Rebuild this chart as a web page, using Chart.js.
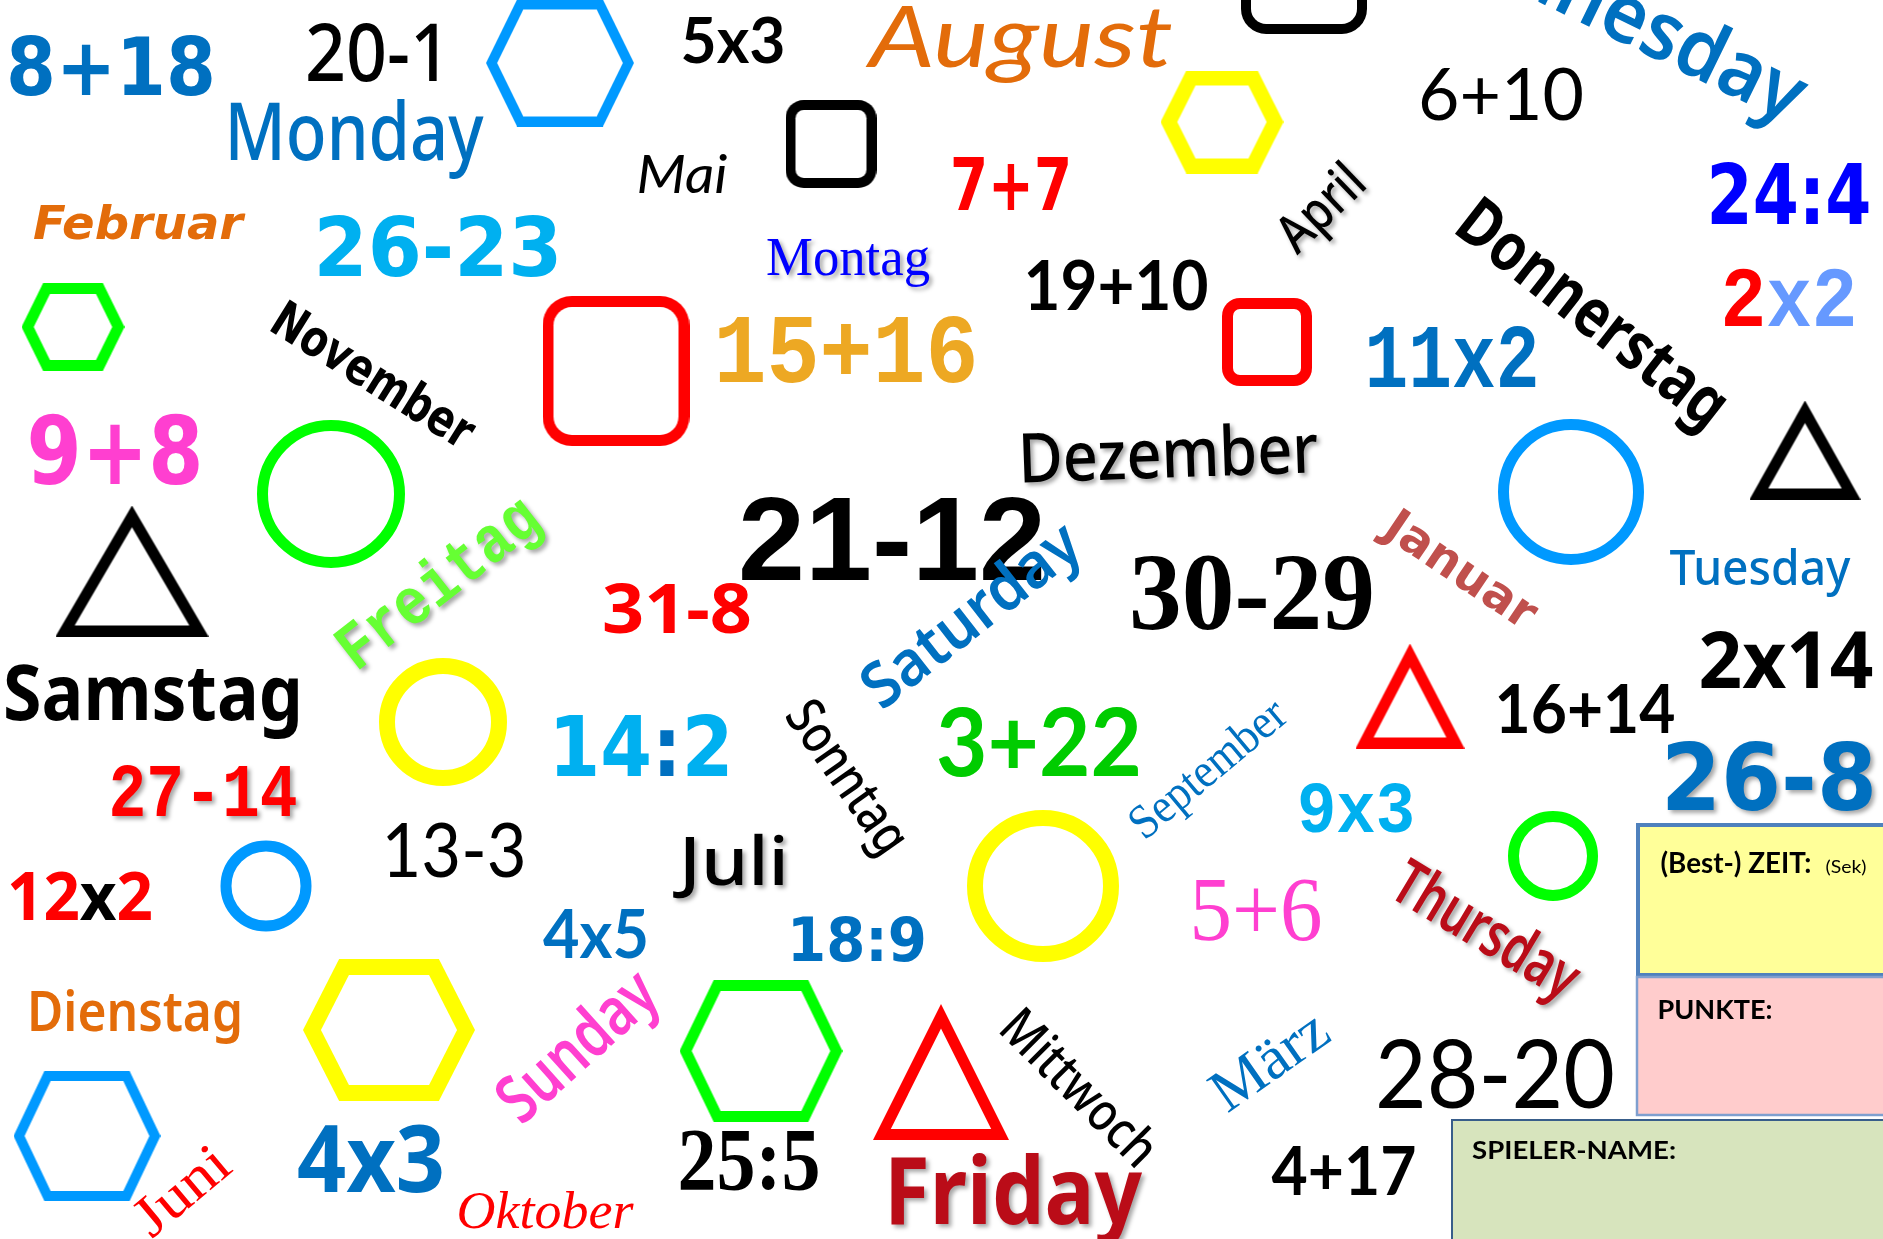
<!DOCTYPE html>
<html>
<head>
<meta charset="utf-8">
<title>Zahlen, Tage, Monate</title>
<script src="https://cdn.jsdelivr.net/npm/chart.js@4.4.1/dist/chart.umd.min.js"></script>
<style>
  html, body { margin: 0; padding: 0; background: #fff; }
  canvas { display: block; }
</style>
</head>
<body>
<canvas id="board" width="1883" height="1239"></canvas>
<script>
"use strict";

// arithmetic tasks: text ("|" splits colour parts), x, y, angle
const tasks = [
  ["8+18", 111, 65, 0], ["20-1", 378, 52, 0], ["26-23", 438, 246, 0], ["9+8", 115, 449, 0],
  ["5x3", 733, 40, 0], ["7+7", 1011, 183, 0], ["19+10", 1116, 285, 0], ["15+16", 846, 352, 0],
  ["21-12", 892, 537, 0], ["31-8", 677, 609, 0], ["6+10", 1501, 94, 0], ["24:4", 1789, 193, 0],
  ["2|x2", 1789, 300, 0], ["11x2", 1452, 360, 0], ["30-29", 1252, 593, 0], ["27-14", 203, 793, 0],
  ["13-3", 454, 850, 0], ["12|x|2", 80, 896, 0], ["14|:|2", 641, 745, 0], ["4x5", 596, 934, 0],
  ["3+22", 1039, 742, 0], ["18:9", 857, 939, 0], ["5+6", 1256, 910, 0], ["25:5", 749, 1159, 0],
  ["4x3", 371, 1158, 0], ["16+14", 1585, 709, 0], ["2x14", 1786, 660, 0], ["26-8", 1769, 776, 0],
  ["9x3", 1356, 810, 0], ["28-20", 1495, 1074, 0], ["4+17", 1344, 1171, 0]
];

const weekdays = [
  ["Monday", 354, 131, 0], ["Wednesday", 1609, 4, 26], ["Montag", 848, 257, 0],
  ["Freitag", 438, 583, -38], ["Saturday", 970, 614, -38], ["Donnerstag", 1594, 312, 38],
  ["Tuesday", 1760, 567, 0], ["Samstag", 153, 692, 0], ["Dienstag", 135, 1011, 0],
  ["Sunday", 576, 1045, -42], ["Sonntag", 849, 776, 55], ["Mittwoch", 1080, 1087, 45],
  ["Friday", 1013, 1190, 0], ["Thursday", 1487, 929, 31]
];

const months = [
  ["Februar", 138, 222, 0], ["November", 374, 374, 32], ["August", 1021, 36, 0],
  ["Mai", 682, 174, 0], ["Dezember", 1168, 453, -2], ["April", 1320, 207, -44],
  ["Januar", 1462, 568, 34], ["Juli", 734, 861, 0], ["September", 1207, 768, -40],
  ["Juni", 181, 1190, -40], ["Oktober", 545, 1210, 0], ["März", 1269, 1060, -35]
];

const formLabels = [
  ["(Best-) ZEIT:", 1736, 863, 0], ["(Sek)", 1846, 866, 0],
  ["PUNKTE:", 1715, 1009, 0], ["SPIELER-NAME:", 1574, 1150, 0]
];

// score boxes: x0, y0, x1, y1
const formBoxes = [[1638, 825, 1890, 975], [1637, 977, 1890, 1115], [1452, 1120, 1890, 1245]];

// shapes: x, y (centre)
const circles = [[331, 494], [443, 722], [266, 886], [1571, 492], [1043, 886], [1553, 856]];
const hexagons = [[560, 63], [73, 327], [1222, 122], [389, 1030], [87, 1136], [761, 1051]];
const squares = [[616, 371], [831, 144], [1267, 342], [1304, -29]];
const triangles = [[132, 571], [1805, 450], [941, 1072], [1410, 696]];

// ---- styles (kept apart from the values above) ----
// font key, cap height, text width, colour(s), shadow
const taskStyle = [
  ["VB", 59, 210, "#0070C0"], ["KM", 57, 146, "#000"], ["VB", 60, 249, "#00B0F0"], ["VB", 69, 177, "#FF3FD0"],
  ["CB", 45, 105, "#000"], ["VB", 53, 122, "#FF0000"], ["CB", 49, 185, "#000"], ["MB", 59, 265, "#EDA823"],
  ["AB", 85, 308, "#000"], ["KB", 48, 150, "#FF0000"], ["C", 52, 166, "#000"], ["VB", 61, 165, "#0000FF"],
  ["MB", 51, 137, ["#FF0000", "#6699FF"]], ["MB", 54, 175, "#0070C0"], ["TB", 72, 246, "#000"], ["MB", 46, 189, "#FF0000", 1],
  ["C", 54, 145, "#000"], ["KB", 47, 146, ["#FF0000", "#000", "#FF0000"]], ["VB", 61, 185, ["#00B0F0", "#0070C0", "#00B0F0"]], ["CB", 48, 106, "#0070C0"],
  ["CB", 67, 206, "#00CC00"], ["VB", 44, 140, "#0070C0"], ["T", 60, 133, "#FF3FD0"], ["TB", 59, 143, "#000"],
  ["KB", 67, 148, "#0070C0"], ["CB", 48, 181, "#000"], ["KB", 56, 175, "#000"], ["VB", 68, 216, "#0070C0", 1],
  ["MB", 43, 118, "#00B0F0"], ["C", 68, 240, "#000"], ["CB", 48, 145, "#000"]
];
const weekdayStyle = [
  ["KM", 57, 259, "#0070C0"], ["KS", 58, 430, "#0070C0"], ["T", 36, 164, "#0000FF", 1],
  ["MB", 40, 239, "#66FF33", 1], ["KS", 45, 259, "#0070C0"], ["KB", 48, 325, "#000"],
  ["KM", 35, 181, "#0070C0"], ["KB", 55, 300, "#000"], ["KS", 40, 216, "#E36C0A"],
  ["KS", 48, 190, "#FF3FD0"], ["KM", 38, 174, "#000"], ["KM", 38, 198, "#000"],
  ["KB", 67, 258, "#BA0C18", 1], ["KS", 45, 206, "#BA0C18", 1]
];
const monthStyle = [
  ["VBI", 34, 210, "#E36C0A"], ["VB", 37, 229, "#000"], ["CI", 61, 304, "#E36C0A"],
  ["CI", 38, 91, "#000"], ["KM", 49, 300, "#000", 1], ["KM", 38, 100, "#000", 1],
  ["VB", 35, 173, "#C0504D"], ["KM", 48, 110, "#000", 1], ["T", 32, 190, "#0070C0"],
  ["T", 38, 108, "#FF0000"], ["TI", 35, 177, "#FF0000"], ["T", 40, 130, "#0070C0"]
];
const formStyle = [["CB", 20, 151, "#000"], ["C", 13, 41, "#000"], ["CB", 19, 115, "#000"], ["CB", 18, 204, "#000"]];
// fill, border, border width
const formBoxStyle = [["#FFFF99", "#4F81BD", 4], ["#FFCCCC", "#7F9FCF", 2.5], ["#D7E4BD", "#385D8A", 2]];

// outer radius, stroke, colour
const circleStyle = [[74, 11, "#00FF00"], [64, 16, "#FFFF00"], [45.5, 11, "#0099FF"],
  [73, 11, "#0099FF"], [76, 16, "#FFFF00"], [45, 11, "#00FF00"]];
// width, height, stroke, colour
const hexagonStyle = [[148, 127, 10, "#0099FF"], [103, 88, 11, "#00FF00"], [123, 103, 15, "#FFFF00"],
  [172, 142, 16, "#FFFF00"], [147, 130, 10, "#0099FF"], [163, 142, 11, "#00FF00"]];
const squareStyle = [[147, 150, 11, "#FF0000"], [91, 88, 10, "#000"], [90, 88, 11, "#FF0000"], [126, 126, 10, "#000"]];
const triangleStyle = [[153, 131, 11, "#000"], [111, 99, 11, "#000"], [136, 136, 11, "#FF0000"], [109, 105, 11, "#FF0000"]];

const FONTS = {
  V: ["DejaVu Sans", 0.73],
  C: ["Lato", 0.72],
  K: ["Noto Sans", 0.714],
  M: ["Liberation Mono", 0.6],
  T: ["Liberation Serif", 0.66],
  A: ["Liberation Sans", 0.72]
};

// ---- shape images ----
function insetPolygon(pts, d) {
  const n = pts.length;
  let area = 0;
  for (let i = 0; i < n; i++) {
    const a = pts[i], b = pts[(i + 1) % n];
    area += a[0] * b[1] - b[0] * a[1];
  }
  const sgn = area > 0 ? 1 : -1;
  const lines = pts.map((a, i) => {
    const b = pts[(i + 1) % n];
    const dx = b[0] - a[0], dy = b[1] - a[1], len = Math.hypot(dx, dy);
    return [a[0] - dy / len * sgn * d, a[1] + dx / len * sgn * d, dx, dy];
  });
  return lines.map((L, i) => {
    const P = lines[(i - 1 + n) % n];
    const den = P[2] * L[3] - P[3] * L[2];
    const t = ((L[0] - P[0]) * L[3] - (L[1] - P[1]) * L[2]) / den;
    return [P[0] + P[2] * t, P[1] + P[3] * t];
  });
}

function polyPath(g, pts) {
  g.beginPath();
  pts.forEach((p, i) => (i ? g.lineTo(p[0], p[1]) : g.moveTo(p[0], p[1])));
  g.closePath();
}

function roundRectPath(g, x, y, w, h, r) {
  g.beginPath();
  g.moveTo(x + r, y);
  g.arcTo(x + w, y, x + w, y + h, r);
  g.arcTo(x + w, y + h, x, y + h, r);
  g.arcTo(x, y + h, x, y, r);
  g.arcTo(x, y, x + w, y, r);
  g.closePath();
}

function makeShape(kind, w, h, s, color) {
  const c = document.createElement("canvas");
  c.width = Math.round(w);
  c.height = Math.round(h);
  const g = c.getContext("2d");
  g.fillStyle = color;
  if (kind === "square") {
    const r = w * 0.2;
    roundRectPath(g, 0, 0, w, h, r);
    g.fill();
    g.globalCompositeOperation = "destination-out";
    roundRectPath(g, s, s, w - 2 * s, h - 2 * s, Math.max(r - s, 2));
    g.fill();
    return c;
  }
  let pts;
  if (kind === "hexagon") {
    const k = 0.21;
    pts = [[0, h / 2], [k * w, 0], [(1 - k) * w, 0], [w, h / 2], [(1 - k) * w, h], [k * w, h]];
  } else {
    pts = [[w / 2, 0], [w, h], [0, h]];
  }
  polyPath(g, pts);
  g.fill();
  g.globalCompositeOperation = "destination-out";
  polyPath(g, insetPolygon(pts, s));
  g.fill();
  return c;
}

const hexImages = hexagonStyle.map(st => makeShape("hexagon", st[0], st[1], st[2], st[3]));
const squareImages = squareStyle.map(st => makeShape("square", st[0], st[1], st[2], st[3]));
const triangleImages = triangleStyle.map(st => makeShape("triangle", st[0], st[1], st[2], st[3]));

// ---- datasets ----
function toPoints(rows) {
  return rows.map(r => ({ x: r[r.length === 2 ? 0 : 1], y: r[r.length === 2 ? 1 : 2] }));
}

function shapeDataset(rows, images, styles) {
  return {
    data: toPoints(rows),
    pointStyle: ctx => images[ctx.dataIndex],
    pointRadius: styles.map(st => Math.max(st[0], st[1]) / 2),
    pointBorderWidth: 0,
    pointBackgroundColor: "transparent",
    pointBorderColor: "transparent",
    clip: false
  };
}

function wordDataset(rows, styles) {
  return {
    data: toPoints(rows),
    words: rows,
    wordStyles: styles,
    pointRadius: 0,
    pointHoverRadius: 0,
    clip: false
  };
}

const datasets = [
  {
    data: toPoints(circles),
    pointStyle: "circle",
    pointRadius: circleStyle.map(st => st[0] - st[1] / 2),
    pointBorderWidth: circleStyle.map(st => st[1]),
    pointBorderColor: circleStyle.map(st => st[2]),
    pointBackgroundColor: "transparent",
    clip: false
  },
  shapeDataset(hexagons, hexImages, hexagonStyle),
  shapeDataset(squares, squareImages, squareStyle),
  shapeDataset(triangles, triangleImages, triangleStyle),
  wordDataset(tasks, taskStyle),
  wordDataset(weekdays, weekdayStyle),
  wordDataset(months, monthStyle),
  wordDataset(formLabels, formStyle)
];

// ---- plugins ----
function fontWeight(flags) {
  if (flags.includes("B")) return "bold";
  if (flags.includes("S")) return "600";
  if (flags.includes("M")) return "500";
  return "normal";
}

function drawWord(ctx, px, py, row, st) {
  const key = st[0];
  const fam = FONTS[key[0]];
  const flags = key.slice(1);
  const capH = st[1];
  const size = capH / fam[1];
  const style = flags.includes("I") ? "italic" : "normal";
  const parts = row[0].split("|");
  const colors = Array.isArray(st[3]) ? st[3] : parts.map(() => st[3]);

  ctx.save();
  ctx.font = `${style} ${fontWeight(flags)} ${size}px "${fam[0]}"`;
  ctx.textBaseline = "alphabetic";
  ctx.textAlign = "left";
  const widths = parts.map(p => ctx.measureText(p).width);
  const total = widths.reduce((a, b) => a + b, 0);
  ctx.translate(px, py);
  ctx.rotate(row[3] * Math.PI / 180);
  ctx.scale(st[2] / total, 1);
  if (st[4]) {
    ctx.shadowColor = "rgba(0,0,0,0.35)";
    ctx.shadowBlur = 4;
    ctx.shadowOffsetX = 3;
    ctx.shadowOffsetY = 3;
  }
  let cx = -total / 2;
  parts.forEach((p, i) => {
    ctx.fillStyle = colors[i];
    ctx.fillText(p, cx, capH / 2);
    cx += widths[i];
  });
  ctx.restore();
}

const boardPlugin = {
  id: "board",
  beforeDraw(chart) {
    const ctx = chart.ctx;
    ctx.save();
    ctx.fillStyle = "#fff";
    ctx.fillRect(0, 0, chart.width, chart.height);
    ctx.restore();
  },
  beforeDatasetsDraw(chart) {
    const ctx = chart.ctx;
    const xs = chart.scales.x, ys = chart.scales.y;
    formBoxes.forEach((b, i) => {
      const [fill, stroke, lw] = formBoxStyle[i];
      const x0 = xs.getPixelForValue(b[0]), x1 = xs.getPixelForValue(b[2]);
      const y0 = ys.getPixelForValue(b[1]), y1 = ys.getPixelForValue(b[3]);
      ctx.save();
      ctx.fillStyle = fill;
      ctx.fillRect(x0, y0, x1 - x0, y1 - y0);
      ctx.lineWidth = lw;
      ctx.strokeStyle = stroke;
      ctx.strokeRect(x0, y0, x1 - x0, y1 - y0);
      ctx.restore();
    });
  },
  afterDatasetsDraw(chart) {
    const ctx = chart.ctx;
    chart.data.datasets.forEach((ds, i) => {
      if (!ds.words) return;
      const meta = chart.getDatasetMeta(i);
      meta.data.forEach((pt, j) => drawWord(ctx, pt.x, pt.y, ds.words[j], ds.wordStyles[j]));
    });
  }
};

const ctx = document.getElementById("board").getContext("2d");
new Chart(ctx, {
  type: "scatter",
  data: { datasets: datasets },
  options: {
    responsive: false,
    maintainAspectRatio: false,
    devicePixelRatio: 1,
    animation: false,
    events: [],
    layout: { padding: 0, autoPadding: false },
    plugins: {
      legend: { display: false },
      tooltip: { enabled: false }
    },
    scales: {
      x: { type: "linear", min: 0, max: 1883, display: false },
      y: { type: "linear", min: 0, max: 1239, reverse: true, display: false }
    }
  },
  plugins: [boardPlugin]
});
</script>
</body>
</html>
